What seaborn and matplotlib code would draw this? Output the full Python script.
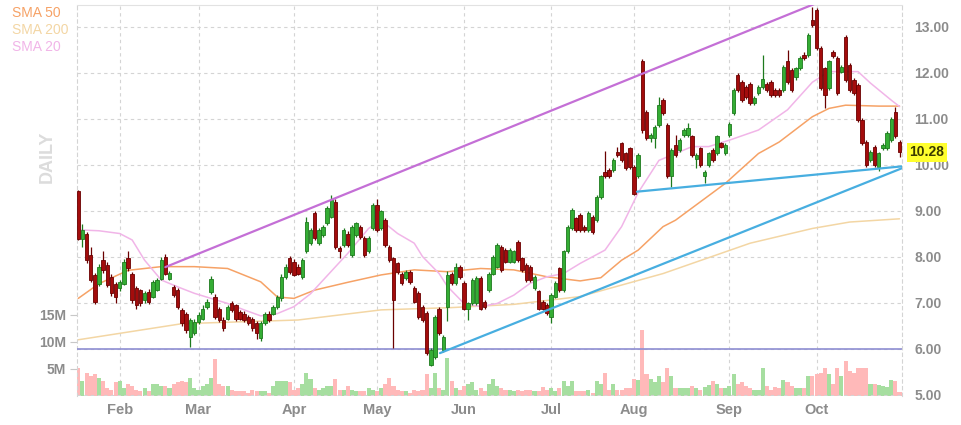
import matplotlib
matplotlib.use("Agg")
import matplotlib.pyplot as plt
import numpy as np
import pandas as pd
import seaborn as sns

# trading days on the chart (US market holidays removed)
holidays = ['2022-02-21', '2022-04-15', '2022-05-30', '2022-06-20',
            '2022-07-04', '2022-09-05']
dates = pd.bdate_range('2022-01-18', '2022-10-31', freq='C', holidays=holidays)

opens = [9.44, 8.40, 8.51, 8.04, 7.60, 7.42, 7.93, 7.82, 7.57, 7.42,
         7.32, 7.42, 7.97, 7.64, 7.32, 7.28, 7.06, 7.24, 7.14, 7.28,
         7.53, 8.00, 7.53, 7.35, 7.28, 6.85, 6.77, 6.27, 6.34, 6.59,
         6.66, 6.92, 7.24, 7.13, 6.88, 6.63, 6.66, 7.00, 6.95, 6.81,
         6.77, 6.70, 6.66, 6.56, 6.23, 6.56, 6.77, 6.77, 6.92, 7.10,
         7.57, 7.97, 7.90, 7.79, 7.57, 8.12, 8.30, 8.95, 8.30, 8.48,
         8.73, 8.88, 9.20, 8.19, 8.26, 8.51, 8.04, 8.48, 8.66, 8.41,
         8.12, 8.62, 9.13, 8.62, 8.80, 8.22, 7.97, 7.86, 7.64, 7.54,
         7.68, 7.32, 7.21, 6.92, 6.78, 5.65, 5.83, 6.88, 5.98, 6.92,
         7.64, 7.43, 7.79, 7.43, 6.88, 6.99, 6.99, 7.54, 7.03, 7.28,
         7.64, 7.79, 8.22, 8.15, 7.90, 7.90, 8.33, 7.97, 7.83, 7.79,
         7.32, 7.25, 7.03, 6.96, 6.70, 7.14, 7.75, 7.28, 8.12, 8.62,
         8.84, 8.91, 8.66, 8.59, 8.88, 8.80, 9.31, 9.85, 9.89, 9.89,
         10.29, 10.47, 10.25, 10.36, 9.96, 9.75, 12.25, 11.16, 10.58, 10.58,
         10.87, 11.41, 10.87, 9.75, 10.43, 10.33, 10.65, 10.65, 10.62, 10.14,
         10.36, 9.75, 10.00, 10.33, 10.25, 10.47, 10.25, 10.65, 11.12, 11.96,
         11.81, 11.70, 11.77, 11.34, 11.56, 11.70, 11.77, 11.81, 11.63, 11.63,
         11.63, 12.25, 12.06, 11.92, 12.10, 12.39, 12.39, 13.15, 13.37, 12.54,
         12.10, 11.67, 12.46, 12.32, 12.03, 12.79, 12.17, 11.85, 11.74, 10.98,
         10.51, 10.11, 10.40, 9.96, 10.36, 10.36, 10.54, 11.16, 10.51]

highs = [9.46, 8.72, 8.55, 8.21, 7.66, 7.85, 8.14, 7.90, 7.62, 7.45,
         7.50, 7.95, 8.12, 7.68, 7.36, 7.30, 7.26, 7.30, 7.50, 7.55,
         8.00, 8.07, 7.70, 7.40, 7.32, 6.90, 6.80, 6.68, 6.65, 6.80,
         6.95, 7.08, 7.58, 7.20, 6.92, 6.70, 6.96, 7.04, 6.98, 6.85,
         6.82, 6.74, 6.70, 6.60, 6.60, 6.80, 6.82, 6.96, 7.18, 7.62,
         7.85, 8.02, 7.95, 7.84, 7.98, 8.87, 8.64, 9.00, 8.64, 8.70,
         9.10, 9.35, 9.25, 8.24, 8.64, 8.56, 8.70, 8.77, 8.70, 8.45,
         8.45, 9.18, 9.27, 9.03, 8.85, 8.26, 8.01, 7.90, 7.68, 7.72,
         7.72, 7.36, 7.25, 6.96, 6.82, 6.02, 6.74, 6.92, 6.31, 7.70,
         7.68, 7.86, 7.83, 7.47, 7.03, 7.54, 7.58, 7.58, 7.07, 7.68,
         8.05, 8.30, 8.26, 8.19, 8.19, 8.16, 8.37, 8.01, 7.87, 7.83,
         7.61, 7.29, 7.07, 7.00, 7.21, 7.47, 7.79, 8.16, 8.70, 9.06,
         8.88, 8.95, 8.70, 8.99, 8.92, 9.35, 9.79, 10.30, 9.93, 10.15,
         10.40, 10.51, 10.29, 10.40, 10.00, 10.26, 12.30, 11.20, 10.69, 10.87,
         11.48, 11.45, 10.91, 10.37, 10.65, 10.58, 10.80, 10.91, 10.66, 10.26,
         10.40, 9.89, 10.29, 10.37, 10.66, 10.51, 10.47, 10.94, 11.67, 12.00,
         11.85, 11.74, 11.81, 11.49, 11.74, 12.39, 11.81, 11.85, 11.67, 11.67,
         12.18, 12.50, 12.10, 12.14, 12.36, 12.45, 12.87, 13.44, 13.41, 12.58,
         12.14, 12.29, 12.50, 12.36, 12.18, 12.83, 12.21, 11.89, 11.78, 11.02,
         10.55, 10.33, 10.44, 10.29, 10.47, 10.73, 11.05, 11.27, 10.55]

lows = [8.36, 8.22, 7.88, 7.45, 6.98, 7.38, 7.66, 7.35, 7.15, 6.99,
        7.25, 7.40, 7.70, 7.00, 6.88, 6.93, 7.00, 6.97, 7.10, 7.25,
        7.50, 7.60, 7.50, 7.12, 6.88, 6.50, 6.35, 6.05, 6.30, 6.55,
        6.62, 6.88, 7.20, 6.65, 6.58, 6.40, 6.62, 6.80, 6.60, 6.62,
        6.58, 6.52, 6.40, 6.22, 6.18, 6.52, 6.58, 6.73, 6.88, 7.05,
        7.53, 7.64, 7.58, 7.60, 7.52, 8.08, 8.25, 8.36, 8.26, 8.44,
        8.69, 8.84, 8.18, 7.97, 8.22, 8.22, 8.00, 8.44, 8.40, 8.00,
        8.08, 8.58, 8.55, 8.58, 8.22, 7.89, 6.02, 7.64, 7.39, 7.50,
        7.42, 6.99, 6.66, 6.59, 5.87, 5.62, 5.79, 6.30, 5.94, 6.60,
        7.40, 7.40, 7.53, 6.84, 6.63, 6.95, 6.95, 6.84, 6.88, 7.24,
        7.60, 7.75, 7.68, 7.86, 7.86, 7.86, 7.89, 7.68, 7.46, 7.46,
        7.28, 6.84, 6.84, 6.74, 6.56, 7.10, 7.24, 7.24, 8.08, 8.58,
        8.55, 8.55, 8.55, 8.55, 8.51, 8.76, 9.27, 9.71, 9.71, 9.85,
        10.18, 10.07, 9.89, 9.92, 9.34, 9.71, 10.70, 10.54, 10.50, 10.36,
        10.83, 11.08, 9.71, 9.53, 10.18, 10.29, 10.61, 10.61, 10.18, 9.93,
        9.96, 9.60, 9.96, 10.07, 10.21, 10.36, 10.21, 10.61, 11.08, 11.59,
        11.37, 11.44, 11.30, 11.30, 11.52, 11.66, 11.59, 11.48, 11.48, 11.48,
        11.59, 11.77, 11.59, 11.84, 12.06, 12.28, 12.35, 13.00, 12.50, 11.63,
        11.23, 11.63, 12.32, 11.52, 11.99, 11.81, 11.59, 11.52, 10.94, 10.43,
        9.96, 10.07, 9.96, 9.87, 10.32, 10.32, 10.50, 10.58, 10.18]

closes = [8.40, 8.59, 7.93, 7.50, 7.03, 7.79, 7.71, 7.39, 7.21, 7.14,
          7.46, 7.90, 7.75, 7.06, 6.95, 6.99, 7.22, 7.03, 7.46, 7.50,
          7.93, 7.64, 7.66, 7.17, 6.92, 6.56, 6.41, 6.63, 6.59, 6.74,
          6.88, 7.03, 7.53, 6.70, 6.63, 6.45, 6.92, 6.85, 6.66, 6.66,
          6.63, 6.56, 6.45, 6.34, 6.56, 6.77, 6.63, 6.92, 7.13, 7.57,
          7.79, 7.68, 7.61, 7.64, 7.93, 8.75, 8.59, 8.41, 8.59, 8.66,
          9.06, 9.24, 8.22, 8.14, 8.59, 8.26, 8.66, 8.73, 8.44, 8.04,
          8.41, 9.13, 8.59, 8.99, 8.26, 7.93, 7.07, 7.68, 7.43, 7.68,
          7.46, 7.03, 6.70, 6.63, 5.91, 5.98, 6.70, 6.34, 6.27, 7.61,
          7.43, 7.79, 7.57, 6.88, 6.99, 7.50, 7.54, 6.88, 6.92, 7.64,
          8.01, 8.26, 7.72, 7.90, 8.15, 8.12, 7.93, 7.72, 7.50, 7.50,
          7.57, 6.88, 6.88, 6.78, 7.17, 7.43, 7.28, 8.12, 8.66, 9.02,
          8.59, 8.59, 8.59, 8.95, 8.55, 9.31, 9.75, 9.75, 9.75, 10.11,
          10.22, 10.11, 9.93, 9.96, 9.38, 10.22, 10.76, 10.58, 10.65, 10.83,
          11.30, 11.12, 9.75, 10.33, 10.22, 10.54, 10.76, 10.80, 10.22, 10.22,
          10.00, 9.85, 10.25, 10.11, 10.62, 10.40, 10.43, 10.90, 11.63, 11.63,
          11.41, 11.48, 11.34, 11.45, 11.70, 11.88, 11.63, 11.52, 11.52, 11.52,
          12.14, 11.81, 11.63, 12.10, 12.32, 12.32, 12.83, 13.04, 12.54, 11.67,
          11.52, 12.25, 12.36, 11.56, 12.14, 11.85, 11.63, 11.56, 10.98, 10.47,
          10.00, 10.29, 10.00, 10.25, 10.43, 10.69, 11.01, 10.62, 10.28]

# volume in millions of shares
volumes_m = [5.2, 2.8, 4.3, 3.7, 4.0, 3.4, 2.8, 1.5, 1.2, 2.5,
             2.8, 1.5, 2.2, 1.9, 1.2, 0.9, 1.5, 0.9, 2.2, 2.2,
             1.9, 1.9, 1.5, 2.2, 2.5, 2.8, 2.5, 3.4, 1.5, 1.2,
             1.9, 2.2, 3.4, 6.8, 2.2, 1.9, 1.9, 1.2, 0.9, 0.9,
             0.9, 0.6, 1.2, 0.9, 0.9, 0.9, 0.6, 1.9, 2.8, 2.8,
             2.8, 2.5, 1.2, 1.5, 2.2, 4.3, 3.1, 1.5, 1.2, 1.5,
             1.9, 1.9, 3.1, 1.2, 1.2, 1.9, 1.2, 0.9, 0.9, 0.9,
             1.5, 1.2, 0.9, 1.5, 2.2, 3.4, 1.9, 1.2, 0.9, 0.9,
             0.6, 1.2, 0.9, 1.2, 4.0, 1.5, 4.3, 1.5, 1.2, 7.1,
             2.8, 1.5, 1.2, 1.9, 2.2, 2.5, 1.2, 1.5, 0.9, 2.2,
             3.1, 1.9, 1.5, 1.2, 1.2, 0.9, 1.2, 0.9, 1.2, 1.2,
             0.9, 0.9, 1.7, 1.2, 1.4, 0.9, 1.4, 2.8, 1.9, 2.8,
             0.9, 0.9, 0.9, 1.1, 0.6, 2.8, 2.2, 4.3, 1.2, 2.2,
             1.2, 1.2, 1.5, 1.5, 3.2, 3.0, 12.3, 4.0, 3.1, 2.5,
             3.7, 2.5, 5.2, 3.7, 1.4, 1.4, 1.4, 1.4, 1.9, 1.4,
             1.2, 1.7, 2.0, 2.8, 2.2, 1.4, 1.5, 1.9, 4.0, 2.2,
             2.5, 1.9, 1.5, 1.2, 1.2, 5.2, 1.9, 1.1, 1.7, 1.5,
             3.0, 2.6, 1.9, 1.4, 1.4, 1.5, 3.7, 3.7, 4.0, 4.3,
             5.2, 4.0, 2.2, 5.2, 3.7, 6.5, 4.6, 4.3, 5.1, 5.2,
             5.1, 2.3, 2.3, 2.0, 1.9, 1.7, 3.0, 2.8, 0.7]

# moving averages (day index, price)
sma50_day = [0, 5, 12, 20, 28, 36, 44, 48, 52, 57, 65, 73, 81, 89, 97, 105,
             113, 121, 126, 131, 135, 141, 144, 156, 164, 169, 177, 181, 185,
             193, 198]
sma50 = [7.10, 7.42, 7.71, 7.79, 7.79, 7.75, 7.46, 7.13, 7.10, 7.28, 7.45,
         7.61, 7.72, 7.68, 7.75, 7.72, 7.57, 7.48, 7.55, 7.93, 8.15, 8.66,
         8.80, 9.60, 10.25, 10.50, 11.05, 11.23, 11.30, 11.28, 11.28]

sma200_day = [0, 25, 53, 73, 90, 105, 121, 141, 162, 177, 186, 198]
sma200 = [6.20, 6.55, 6.63, 6.85, 6.90, 6.97, 7.14, 7.64, 8.30, 8.62, 8.76, 8.83]

sma20_day = [0, 5, 10, 13, 16, 20, 24, 28, 32, 36, 40, 44, 48, 52, 56, 65,
             70, 73, 77, 81, 83, 87, 89, 93, 97, 101, 105, 109, 113, 117,
             121, 127, 131, 135, 140, 148, 152, 157, 164, 171, 177, 181,
             188, 191, 196, 198]
sma20 = [8.59, 8.57, 8.51, 8.37, 7.93, 7.50, 7.35, 7.21, 7.10, 6.99, 6.85,
         6.72, 6.77, 6.92, 7.20, 8.08, 8.62, 8.80, 8.51, 8.30, 8.01, 7.64,
         7.36, 6.99, 6.92, 6.99, 7.17, 7.43, 7.57, 7.64, 7.86, 8.15, 8.66,
         9.40, 10.10, 10.40, 10.40, 10.54, 10.76, 11.20, 11.80, 12.03,
         12.03, 11.78, 11.41, 11.27]

# drawn trend lines (day index, price)
upper_day, upper_px = [21, 178], [7.78, 13.52]
rise_day, rise_px = [87.2, 198.6], [5.91, 9.93]
flat_day, flat_px = [134.7, 198.6], [9.42, 9.97]
support_px = 6.0
last_px = 10.28

sns.set_style('white')
plt.rcParams['font.family'] = ['Liberation Sans', 'DejaVu Sans']

df = pd.DataFrame({'day': np.arange(len(dates)), 'open': opens, 'high': highs,
                   'low': lows, 'close': closes})
df['volume'] = np.array(volumes_m) * 1e6
df['dir'] = np.where(df['close'] >= df['open'], 'up', 'down')

grey = '#8c8c8c'
grid = '#d4d4d4'

fig = plt.figure(figsize=(9.61, 4.25), dpi=100)
fig.patch.set_facecolor('white')
ax = fig.add_axes([77 / 961, 29 / 425, 825 / 961, 391 / 425])
ax2 = ax.twinx()

# volume, behind the price pane
sns.barplot(data=df, x='day', y='volume', hue='dir',
            palette={'up': '#a6dea0', 'down': '#ffb9b9'},
            native_scale=True, dodge=False, width=0.98, saturation=1,
            linewidth=0, errorbar=None, legend=False, ax=ax)

month_days = [i for i in range(1, len(dates)) if dates[i].month != dates[i - 1].month]
for d in month_days:
    ax.axvline(d, color=grid, lw=0.8, ls=(0, (3, 3)), zorder=0)

# moving averages
sns.lineplot(x=sma200_day, y=sma200, color='#f3d6a4', lw=1.1, ax=ax2, zorder=2)
sns.lineplot(x=sma50_day, y=sma50, color='#f6a266', lw=1.1, ax=ax2, zorder=2)
sns.lineplot(x=sma20_day, y=sma20, color='#f1b5e8', lw=1.1, ax=ax2, zorder=2)

ax2.axhline(support_px, color='#8e8ed2', lw=1.2, zorder=3)

# candles
up = df['dir'] == 'up'
body_col = np.where(up, '#34ad34', '#a30c0c')
edge_col = np.where(up, '#1d7a1d', '#6a0000')
ax2.vlines(df['day'], df['low'], df['high'], colors=edge_col, lw=0.9, zorder=4)
ax2.bar(df['day'], (df['close'] - df['open']).abs(),
        bottom=df[['open', 'close']].min(axis=1), width=0.82,
        color=body_col, edgecolor=edge_col, linewidth=0.6, zorder=5)

ax2.plot(upper_day, upper_px, color='#c46fd6', lw=1.6, zorder=6)
ax2.plot(rise_day, rise_px, color='#47aee0', lw=1.6, zorder=6)
ax2.plot(flat_day, flat_px, color='#47aee0', lw=1.6, zorder=6)

# scales
ax.set_xlim(-0.3, 198.6)
ax.set_ylim(0, 72.4e6)
ax2.set_ylim(4.978, 13.478)
ax.set_xlabel('')
ax.set_ylabel('')
ax2.set_xlabel('')
ax2.set_ylabel('')

ax.set_xticks(month_days, labels=[dates[i].strftime('%b') for i in month_days],
              fontweight='bold')
ax.tick_params(axis='x', length=0, pad=5, labelsize=10.5, labelcolor=grey)

ax.set_yticks([5e6, 10e6, 15e6], labels=['5M', '10M', '15M'], fontweight='bold')
ax.tick_params(axis='y', length=5, width=0.8, color='#c8c8c8', pad=3,
               labelsize=10, labelcolor=grey)

price_ticks = np.arange(5, 14)
ax2.set_yticks(price_ticks, labels=[f'{t:.2f}' for t in price_ticks],
               fontweight='bold')
ax2.tick_params(axis='y', length=0, pad=9, labelsize=10, labelcolor=grey)
ax2.grid(axis='y', color=grid, lw=0.8, ls=(0, (3, 3)))
ax2.set_axisbelow(True)

for s in ax.spines.values():
    s.set_visible(False)
ax2.spines['bottom'].set_visible(False)
ax2.spines['top'].set_color('#e2e2e2')
ax2.spines['top'].set_linewidth(0.8)
for side in ['left', 'right']:
    ax2.spines[side].set_color(grid)
    ax2.spines[side].set_linewidth(0.8)
    ax2.spines[side].set_linestyle((0, (3, 3)))

ax2.text(1.009, last_px, f'{last_px:.2f}', transform=ax2.get_yaxis_transform(),
         fontsize=10, fontweight='bold', color='#3a3a00', va='center', ha='left',
         bbox=dict(boxstyle='square,pad=0.18', fc='#ffff2e', ec='none'),
         clip_on=False, zorder=10)

# legend and pane label
fig.text(12 / 961, 1 - 13 / 425, 'SMA 50', color='#f6a266', fontsize=10, va='center')
fig.text(12 / 961, 1 - 30 / 425, 'SMA 200', color='#f3d6a4', fontsize=10, va='center')
fig.text(12 / 961, 1 - 47 / 425, 'SMA 20', color='#f1b5e8', fontsize=10, va='center')
fig.text(47 / 961, 1 - 157 / 425, 'DAILY', rotation=90, color='#dcdcdc',
         fontsize=13, fontweight='bold', ha='center', va='center')

fig.savefig('out.png', dpi=100)
